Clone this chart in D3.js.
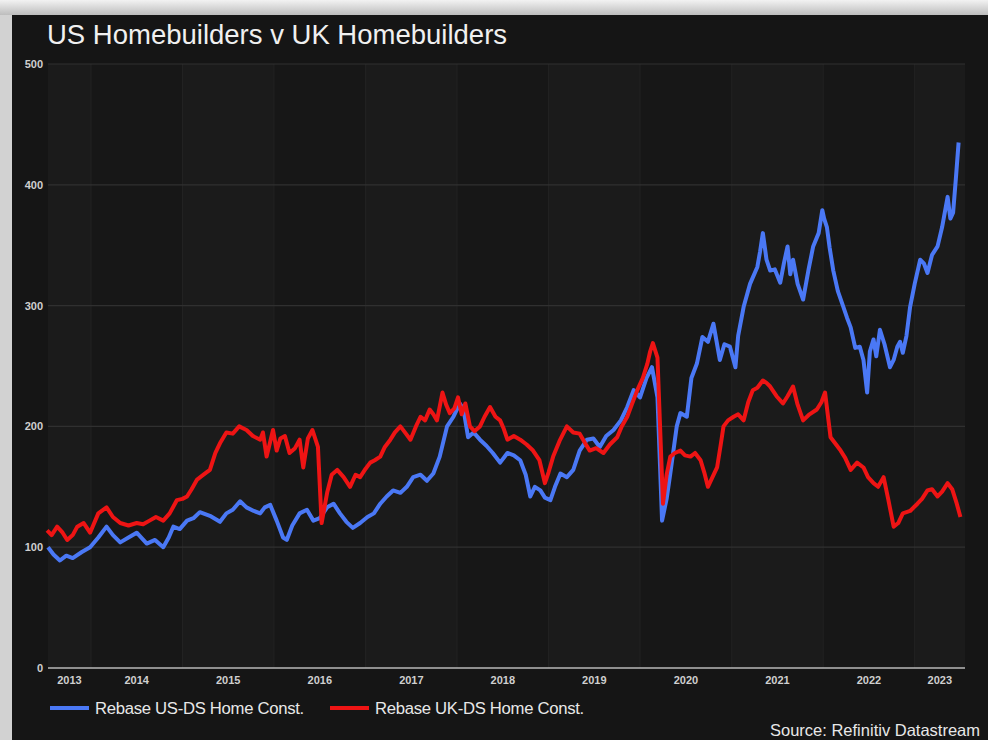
<!DOCTYPE html>
<html>
<head>
<meta charset="utf-8">
<script src="https://cdn.jsdelivr.net/npm/d3@7"></script>
<style>
  body { margin: 0; background: #d6d6d6; }
  svg { display: block; }
</style>
</head>
<body>
<div id="chart"></div>
<script>
var yearLabels = ["2013", "2014", "2015", "2016", "2017", "2018", "2019", "2020", "2021", "2022", "2023"];
var yTicks = [0, 100, 200, 300, 400, 500];

// dates as decimal years, values rebased to 100
var usYears = [2013.53, 2013.59, 2013.66, 2013.73, 2013.80, 2013.90, 2013.99, 2014.08, 2014.17, 2014.24,
  2014.32, 2014.41, 2014.50, 2014.55, 2014.61, 2014.70, 2014.79, 2014.85, 2014.90, 2014.97,
  2015.05, 2015.12, 2015.19, 2015.30, 2015.41, 2015.48, 2015.55, 2015.63, 2015.70, 2015.78,
  2015.85, 2015.90, 2015.96, 2016.03, 2016.10, 2016.14, 2016.20, 2016.28, 2016.36, 2016.43,
  2016.50, 2016.58, 2016.65, 2016.72, 2016.79, 2016.86, 2016.94, 2017.02, 2017.09, 2017.16,
  2017.23, 2017.30, 2017.38, 2017.45, 2017.52, 2017.60, 2017.67, 2017.74, 2017.81, 2017.89,
  2017.96, 2018.03, 2018.07, 2018.12, 2018.18, 2018.25, 2018.32, 2018.39, 2018.47, 2018.55,
  2018.62, 2018.69, 2018.75, 2018.80, 2018.85, 2018.91, 2018.96, 2019.02, 2019.07, 2019.13,
  2019.20, 2019.27, 2019.34, 2019.42, 2019.49, 2019.56, 2019.63, 2019.71, 2019.79, 2019.86,
  2019.93, 2020.00, 2020.07, 2020.13, 2020.19, 2020.24, 2020.29, 2020.33, 2020.40, 2020.44,
  2020.51, 2020.56, 2020.62, 2020.68, 2020.74, 2020.80, 2020.87, 2020.92, 2020.98, 2021.04,
  2021.07, 2021.13, 2021.20, 2021.28, 2021.31, 2021.34, 2021.38, 2021.42, 2021.47, 2021.53,
  2021.57, 2021.61, 2021.64, 2021.67, 2021.72, 2021.78, 2021.84, 2021.89, 2021.95, 2021.99,
  2022.01, 2022.04, 2022.07, 2022.11, 2022.16, 2022.22, 2022.26, 2022.30, 2022.35, 2022.40,
  2022.44, 2022.48, 2022.51, 2022.55, 2022.58, 2022.62, 2022.67, 2022.73, 2022.77, 2022.81,
  2022.84, 2022.87, 2022.91, 2022.95, 2023.00, 2023.06, 2023.10, 2023.14, 2023.19, 2023.25,
  2023.30, 2023.36, 2023.39, 2023.42, 2023.45, 2023.48];
var usValues = [100, 94, 89, 93, 91, 96, 100, 108, 117, 110,
  104, 108, 112, 108, 103, 106, 100, 108, 117, 115,
  122, 124, 129, 126, 121, 128, 131, 138, 133, 130,
  128, 133, 135, 122, 108, 106, 118, 128, 131, 122,
  124, 133, 136, 128, 121, 116, 120, 125, 128, 136,
  142, 147, 145, 150, 158, 160, 155, 161, 175, 200,
  208, 219, 214, 191, 195, 189, 184, 178, 170, 178,
  176, 172, 160, 142, 150, 147, 141, 139, 150, 161,
  158, 164, 180, 189, 190, 183, 192, 197, 205, 216,
  230, 224, 240, 249, 224, 122, 140, 161, 200, 211,
  208, 240, 252, 274, 270, 285, 255, 268, 266, 249,
  275, 299, 318, 332, 345, 360, 338, 329, 330, 319,
  335, 349, 326, 338, 318, 305, 330, 349, 360, 379,
  372, 365, 348, 329, 312, 299, 290, 282, 265, 266,
  255, 228, 262, 272, 258, 280, 268, 249, 255, 266,
  270, 261, 275, 299, 318, 338, 335, 327, 342, 349,
  365, 390, 372, 377, 405, 435];

var ukYears = [2013.52, 2013.57, 2013.63, 2013.69, 2013.74, 2013.80, 2013.85, 2013.92, 2013.99, 2014.08,
  2014.17, 2014.24, 2014.32, 2014.41, 2014.50, 2014.57, 2014.64, 2014.71, 2014.79, 2014.86,
  2014.94, 2015.00, 2015.05, 2015.10, 2015.16, 2015.23, 2015.30, 2015.36, 2015.41, 2015.48,
  2015.55, 2015.62, 2015.70, 2015.77, 2015.85, 2015.88, 2015.92, 2015.99, 2016.03, 2016.07,
  2016.12, 2016.17, 2016.23, 2016.28, 2016.32, 2016.37, 2016.42, 2016.48, 2016.52, 2016.58,
  2016.63, 2016.69, 2016.76, 2016.83, 2016.89, 2016.94, 2017.00, 2017.05, 2017.10, 2017.16,
  2017.21, 2017.27, 2017.32, 2017.38, 2017.44, 2017.49, 2017.55, 2017.60, 2017.65, 2017.70,
  2017.74, 2017.78, 2017.84, 2017.88, 2017.92, 2017.97, 2018.01, 2018.05, 2018.09, 2018.14,
  2018.19, 2018.25, 2018.30, 2018.36, 2018.42, 2018.47, 2018.51, 2018.55, 2018.62, 2018.69,
  2018.76, 2018.83, 2018.90, 2018.96, 2019.00, 2019.05, 2019.12, 2019.20, 2019.27, 2019.34,
  2019.40, 2019.45, 2019.52, 2019.60, 2019.67, 2019.75, 2019.80, 2019.86, 2019.91, 2019.97,
  2020.03, 2020.08, 2020.11, 2020.14, 2020.19, 2020.25, 2020.29, 2020.33, 2020.38, 2020.44,
  2020.49, 2020.55, 2020.60, 2020.66, 2020.70, 2020.74, 2020.79, 2020.84, 2020.88, 2020.91,
  2020.96, 2021.02, 2021.07, 2021.13, 2021.18, 2021.23, 2021.28, 2021.34, 2021.38, 2021.42,
  2021.49, 2021.56, 2021.61, 2021.67, 2021.72, 2021.78, 2021.85, 2021.93, 2021.98, 2022.02,
  2022.08, 2022.13, 2022.19, 2022.24, 2022.30, 2022.37, 2022.44, 2022.49, 2022.55, 2022.60,
  2022.66, 2022.71, 2022.77, 2022.82, 2022.87, 2022.95, 2023.03, 2023.08, 2023.14, 2023.19,
  2023.25, 2023.30, 2023.36, 2023.41, 2023.46, 2023.50];
var ukValues = [114, 110, 117, 112, 106, 110, 117, 120, 112, 128,
  133, 125, 120, 118, 120, 119, 122, 125, 122, 128,
  139, 140, 142, 148, 156, 160, 164, 178, 186, 195,
  194, 200, 197, 192, 189, 195, 175, 197, 180, 190,
  192, 178, 182, 189, 166, 190, 197, 183, 120, 145,
  160, 164, 158, 150, 160, 158, 165, 170, 172, 175,
  183, 189, 195, 200, 194, 189, 200, 208, 205, 214,
  210, 205, 228, 218, 211, 215, 224, 210, 219, 200,
  196, 200, 208, 216, 208, 205, 198, 189, 192, 189,
  185, 180, 172, 153, 162, 175, 188, 200, 195, 194,
  186, 180, 182, 178, 185, 191, 200, 208, 218, 230,
  240, 252, 262, 269, 257, 136, 160, 175, 178, 180,
  176, 175, 178, 172, 162, 150, 158, 166, 185, 200,
  205, 208, 210, 205, 220, 230, 232, 238, 236, 233,
  225, 219, 225, 233, 218, 205, 210, 214, 220, 228,
  191, 186, 180, 174, 164, 170, 166, 158, 153, 150,
  158, 140, 117, 120, 128, 130, 136, 140, 147, 148,
  142, 146, 153, 148, 136, 125];

function runChart() {
  "use strict";
  var width = 988;
  var height = 740;
  var font = "Liberation Sans, Arial, sans-serif";

  function toDate(t) {
    var year = Math.floor(t);
    var start = new Date(year, 0, 1);
    var end = new Date(year + 1, 0, 1);
    return new Date(start.getTime() + (t - year) * (end - start));
  }

  var svg = d3.select("#chart").append("svg").
    attr("width", width).
    attr("height", height);

  // light frame + dark panel
  var grad = svg.append("defs").append("linearGradient").
    attr("id", "topfade").
    attr("x1", 0).attr("y1", 0).attr("x2", 0).attr("y2", 1);
  grad.append("stop").attr("offset", "0%").attr("stop-color", "#f2f2f2");
  grad.append("stop").attr("offset", "100%").attr("stop-color", "#bdbdbd");

  svg.append("rect").
    attr("width", width).
    attr("height", height).
    style("fill", "#d2d2d2");
  svg.append("rect").
    attr("width", width).
    attr("height", 15).
    style("fill", "url(#topfade)");
  svg.append("rect").
    attr("x", 12).
    attr("y", 15).
    attr("width", width - 12).
    attr("height", height - 15).
    style("fill", "#151515");

  var x0 = toDate(2013.53);
  var x1 = toDate(2023.55);
  var x = d3.scaleTime().domain([x0, x1]).range([48, 965]);
  var y = d3.scaleLinear().domain([0, 500]).range([668, 64]);

  // year bands
  var bands = yearLabels.map(function(label) {
    var yr = +label;
    var a = new Date(Math.max(x0, new Date(yr, 0, 1)));
    var b = new Date(Math.min(x1, new Date(yr + 1, 0, 1)));
    return { label: label, a: a, b: b, odd: yr % 2 === 1 };
  });

  svg.append("g").selectAll("rect").
    data(bands).
    enter().append("rect").
    attr("x", function(d) { return x(d.a); }).
    attr("width", function(d) { return x(d.b) - x(d.a); }).
    attr("y", y(500)).
    attr("height", y(0) - y(500)).
    style("fill", function(d) { return d.odd ? "#1b1b1b" : "#171717"; });

  svg.append("g").selectAll("line").
    data(bands.slice(1)).
    enter().append("line").
    attr("x1", function(d) { return x(d.a); }).
    attr("x2", function(d) { return x(d.a); }).
    attr("y1", y(500)).
    attr("y2", y(0)).
    style("stroke", "#232323").
    style("stroke-width", 1);

  // horizontal grid
  svg.append("g").selectAll("line").
    data(yTicks.slice(1)).
    enter().append("line").
    attr("x1", 48).
    attr("x2", 965).
    attr("y1", function(d) { return y(d); }).
    attr("y2", function(d) { return y(d); }).
    style("stroke", "#303030").
    style("stroke-width", 1.2);

  // y axis labels
  var yAxis = d3.axisLeft(y).tickValues(yTicks).tickSize(0).tickPadding(5);
  var yg = svg.append("g").
    attr("transform", "translate(44,0)").
    call(yAxis);
  yg.select(".domain").remove();
  yg.selectAll("text").
    style("font-family", font).
    style("font-size", "11px").
    style("font-weight", "bold").
    style("fill", "#cfcfcf").
    attr("x", -1);

  // x axis
  svg.append("line").
    attr("x1", 48).
    attr("x2", 965).
    attr("y1", y(0)).
    attr("y2", y(0)).
    style("stroke", "#b8b8b8").
    style("stroke-width", 1.5);

  svg.append("g").selectAll("text").
    data(bands).
    enter().append("text").
    attr("x", function(d) { return (x(d.a) + x(d.b)) / 2; }).
    attr("y", 684).
    attr("text-anchor", "middle").
    style("font-family", font).
    style("font-size", "11px").
    style("font-weight", "bold").
    style("fill", "#cfcfcf").
    text(function(d) { return d.label; });

  var line = d3.line().
    x(function(d) { return x(toDate(d[0])); }).
    y(function(d) { return y(d[1]); });

  var us = d3.zip(usYears, usValues);
  var uk = d3.zip(ukYears, ukValues);

  svg.append("path").
    datum(us).
    attr("d", line).
    style("fill", "none").
    style("stroke", "#4a78f5").
    style("stroke-width", 4).
    style("stroke-linejoin", "round");

  svg.append("path").
    datum(uk).
    attr("d", line).
    style("fill", "none").
    style("stroke", "#ee1414").
    style("stroke-width", 4).
    style("stroke-linejoin", "round");

  // title
  svg.append("text").
    attr("x", 47).
    attr("y", 44).
    style("font-family", font).
    style("font-size", "27.5px").
    style("fill", "#f0f0f0").
    text("US Homebuilders v UK Homebuilders");

  // legend
  var legend = [
    { name: "Rebase US-DS Home Const.", color: "#4a78f5", x: 50 },
    { name: "Rebase UK-DS Home Const.", color: "#ee1414", x: 330 }
  ];
  var lg = svg.append("g").selectAll("g").
    data(legend).
    enter().append("g").
    attr("transform", function(d) { return "translate(" + d.x + ",708)"; });
  lg.append("line").
    attr("x1", 0).
    attr("x2", 39).
    style("stroke", function(d) { return d.color; }).
    style("stroke-width", 4);
  lg.append("text").
    attr("x", 45).
    attr("dy", "0.35em").
    style("font-family", font).
    style("font-size", "16.7px").
    style("letter-spacing", "-0.3px").
    style("fill", "#e8e8e8").
    text(function(d) { return d.name; });

  svg.append("text").
    attr("x", 980).
    attr("y", 736).
    attr("text-anchor", "end").
    style("font-family", font).
    style("font-size", "16.5px").
    style("fill", "#e8e8e8").
    text("Source: Refinitiv Datastream");
}

runChart();
</script>
</body>
</html>
